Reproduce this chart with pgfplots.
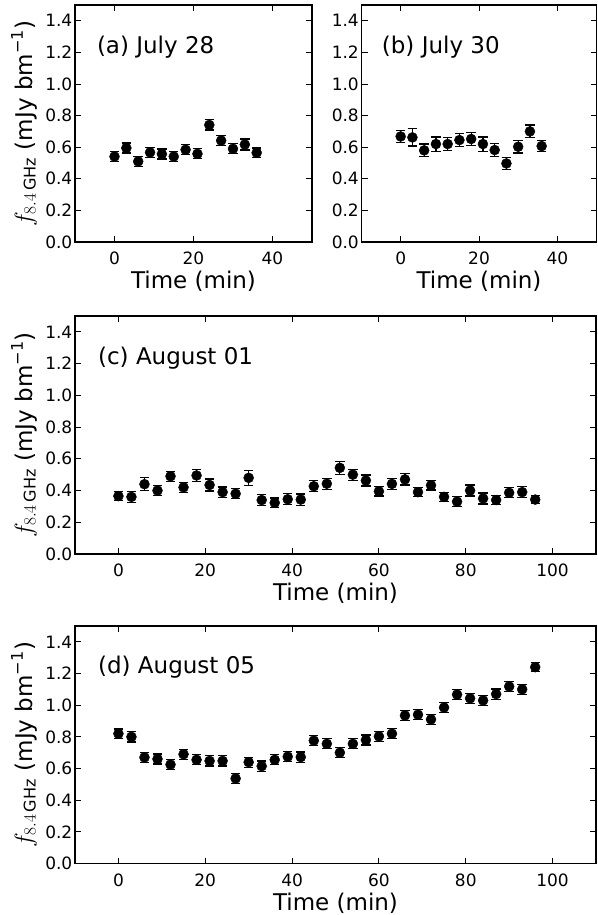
\documentclass[border=0pt]{standalone}
\usepackage{fontspec}
\setmainfont{DejaVu Sans}
\usepackage{pgfplots}
\usepackage{pgfplotstable}
\pgfplotsset{compat=1.18}

\pgfplotstableread{
t y e
0 0.541 0.032
3 0.595 0.032
6 0.510 0.032
9 0.567 0.032
12 0.557 0.032
15 0.541 0.032
18 0.584 0.032
21 0.558 0.032
24 0.741 0.032
27 0.642 0.032
30 0.590 0.032
33 0.617 0.035
36 0.565 0.03
}\dataA

\pgfplotstableread{
t y e
0 0.668 0.04
3 0.662 0.055
6 0.580 0.04
9 0.620 0.045
12 0.620 0.04
15 0.645 0.04
18 0.652 0.04
21 0.620 0.045
24 0.582 0.04
27 0.497 0.04
30 0.603 0.04
33 0.700 0.04
36 0.607 0.035
}\dataB

\pgfplotstableread{
t y e
0 0.365 0.03
3 0.360 0.035
6 0.440 0.04
9 0.400 0.032
12 0.490 0.032
15 0.420 0.03
18 0.495 0.038
21 0.435 0.038
24 0.390 0.032
27 0.380 0.032
30 0.480 0.048
33 0.340 0.035
36 0.323 0.03
39 0.345 0.035
42 0.343 0.035
45 0.427 0.035
48 0.443 0.035
51 0.543 0.042
54 0.500 0.035
57 0.463 0.035
60 0.395 0.03
63 0.442 0.035
66 0.470 0.035
69 0.390 0.03
72 0.433 0.03
75 0.360 0.03
78 0.330 0.03
81 0.400 0.035
84 0.350 0.035
87 0.340 0.03
90 0.386 0.032
93 0.390 0.035
96 0.343 0.025
}\dataC

\pgfplotstableread{
t y e
0 0.820 0.03
3 0.800 0.032
6 0.670 0.032
9 0.660 0.032
12 0.625 0.032
15 0.690 0.032
18 0.655 0.032
21 0.648 0.032
24 0.648 0.032
27 0.537 0.032
30 0.640 0.032
33 0.615 0.032
36 0.655 0.032
39 0.675 0.032
42 0.672 0.032
45 0.776 0.032
48 0.756 0.032
51 0.700 0.032
54 0.756 0.032
57 0.780 0.032
60 0.803 0.032
63 0.820 0.032
66 0.935 0.032
69 0.940 0.032
72 0.910 0.032
75 0.985 0.032
78 1.067 0.032
81 1.043 0.032
84 1.030 0.032
87 1.070 0.032
90 1.118 0.032
93 1.100 0.032
96 1.240 0.028
}\dataD

\pgfplotsset{
  myax/.style={
    scale only axis, anchor=south west,
    ymin=0, ymax=1.5,
    ytick={0,0.2,0.4,0.6,0.8,1.0,1.2,1.4},
    yticklabels={0.0,0.2,0.4,0.6,0.8,1.0,1.2,1.4},
    tick align=inside,
    major tick length=6pt,
    minor tick num=0,
    axis line style={line width=1.1pt},
    every tick/.style={black, line width=1pt},
    tick label style={font=\fontsize{17}{20}\selectfont},
    yticklabel style={anchor=east, inner sep=0pt, xshift=-2.5pt},
    xticklabel style={anchor=north, inner sep=0pt, yshift=-10pt},
    label style={font=\fontsize{23}{27}\selectfont},
    xlabel={Time (min)},
    xlabel style={at={([yshift=-46.5pt]axis description cs:0.5,0)}, anchor=base, inner sep=0pt},
    ylabel style={at={([xshift=-43pt]axis description cs:0,0.5)}, anchor=base, inner sep=0pt},
  },
  narrowx/.style={xmin=-10, xmax=50, xtick={0,20,40}, xticklabels={0,20,40}},
  widex/.style={xmin=-10, xmax=110, xtick={0,20,40,60,80,100}, xticklabels={0,20,40,60,80,100}},
  pts/.style={black, only marks, mark=*, mark size=5pt,
    error bars/.cd, y dir=both, y explicit,
    error bar style={line width=1.2pt, black},
    error mark options={rotate=90, line width=1.2pt, mark size=4.7pt, black}},
}
\tikzset{ann/.style={anchor=base west, inner sep=0pt, font=\fontsize{23}{27}\selectfont}}

\newcommand{\flabel}{$f_{8.4\,\mathrm{GHz}}$ (mJy bm\textsuperscript{−1})}

\begin{document}
\begin{tikzpicture}
\useasboundingbox (0pt,0pt) rectangle (597pt,-915pt);

\begin{axis}[myax, narrowx, at={(75pt,-242pt)}, width=237pt, height=237pt, ylabel={\flabel}]
\addplot[pts] table[x=t, y=y, y error=e] {\dataA};
\node[ann] at (axis description cs:0.092,0.796) {(a) July 28};
\end{axis}

\begin{axis}[myax, narrowx, at={(361.5pt,-242pt)}, width=235pt, height=237pt]
\addplot[pts] table[x=t, y=y, y error=e] {\dataB};
\node[ann] at (axis description cs:0.086,0.796) {(b) July 30};
\end{axis}

\begin{axis}[myax, widex, at={(75pt,-554pt)}, width=521pt, height=238pt, ylabel={\flabel}]
\addplot[pts] table[x=t, y=y, y error=e] {\dataC};
\node[ann] at (axis description cs:0.044,0.798) {(c) August 01};
\end{axis}

\begin{axis}[myax, widex, at={(75pt,-863.5pt)}, width=521pt, height=237.5pt, ylabel={\flabel}]
\addplot[pts] table[x=t, y=y, y error=e] {\dataD};
\node[ann] at (axis description cs:0.044,0.798) {(d) August 05};
\end{axis}

\end{tikzpicture}
\end{document}
